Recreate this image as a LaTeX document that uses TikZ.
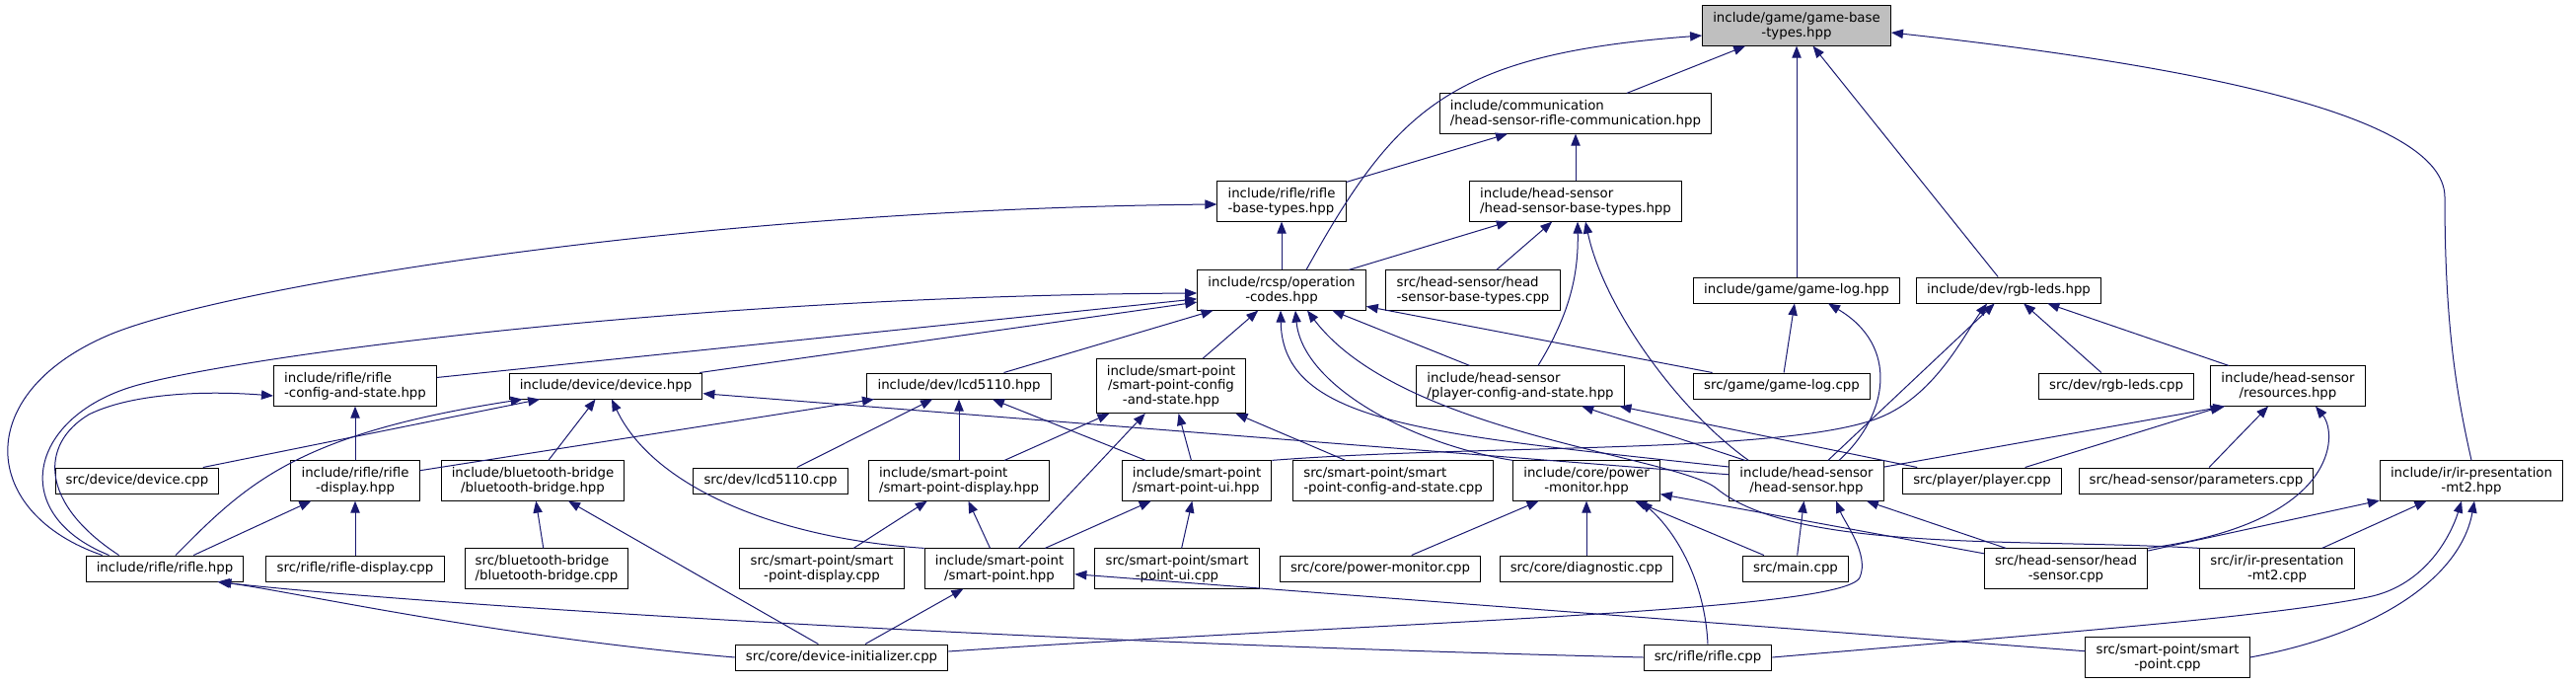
\documentclass[tikz,border=0pt]{standalone}
\usepackage{fontspec}
\setmainfont{DejaVu Sans}
\usetikzlibrary{arrows.meta,calc}
\definecolor{edgeblue}{HTML}{191970}
\definecolor{rootgray}{HTML}{BFBFBF}

\begin{document}
\begin{tikzpicture}[x=0.75pt,y=-0.75pt,
  file/.style={draw=black,line width=0.75pt,fill=white,inner xsep=8pt,inner ysep=4.75pt,
    minimum height=19.5pt,font=\fontsize{10}{11}\selectfont,align=left},
  filec/.style={file,align=center},
  inc/.style={draw=edgeblue,line width=0.75pt,-{Triangle[length=9pt,width=7pt,fill=edgeblue]}}]
  \useasboundingbox (0,0) rectangle (2611,692);
  % header rows
  \node[filec,fill=rootgray] (R) at (1821,26) {include/game/game-base\\-types.hpp};
  \node[file] (comm) at (1597,115) {include/communication\\/head-sensor-rifle-communication.hpp};
  \node[file] (rbt) at (1299,204) {include/rifle/rifle\\-base-types.hpp};
  \node[file] (hsbt) at (1597,204) {include/head-sensor\\/head-sensor-base-types.hpp};
  \node[filec] (rcsp) at (1299,294) {include/rcsp/operation\\-codes.hpp};
  \node[file] (hsbtcpp) at (1493,294) {src/head-sensor/head\\-sensor-base-types.cpp};
  \node[file] (glh) at (1821,294) {include/game/game-log.hpp};
  \node[file] (rgbh) at (2036,294) {include/dev/rgb-leds.hpp};
  \node[file] (rcs) at (360,391) {include/rifle/rifle\\-config-and-state.hpp};
  \node[file] (dev) at (614,391) {include/device/device.hpp};
  \node[file] (lcdh) at (972,391) {include/dev/lcd5110.hpp};
  \node[filec] (spcs) at (1187,391) {include/smart-point\\/smart-point-config\\-and-state.hpp};
  \node[file] (pcs) at (1541,391) {include/head-sensor\\/player-config-and-state.hpp};
  \node[file] (glcpp) at (1806,391) {src/game/game-log.cpp};
  \node[file] (rgbcpp) at (2145,391) {src/dev/rgb-leds.cpp};
  \node[filec] (res) at (2319,391) {include/head-sensor\\/resources.hpp};
  \node[file] (devcpp) at (139,487) {src/device/device.cpp};
  \node[filec] (rdh) at (360,487) {include/rifle/rifle\\-display.hpp};
  \node[filec] (bbh) at (540,487) {include/bluetooth-bridge\\/bluetooth-bridge.hpp};
  \node[file] (lcdcpp) at (781,487) {src/dev/lcd5110.cpp};
  \node[file] (spdh) at (972,487) {include/smart-point\\/smart-point-display.hpp};
  \node[file] (spuih) at (1213,487) {include/smart-point\\/smart-point-ui.hpp};
  \node[file] (spcscpp) at (1412,487) {src/smart-point/smart\\-point-config-and-state.cpp};
  \node[filec] (pmh) at (1608,487) {include/core/power\\-monitor.hpp};
  \node[filec] (hsh) at (1831,487) {include/head-sensor\\/head-sensor.hpp};
  \node[file] (plcpp) at (2009,487) {src/player/player.cpp};
  \node[file] (parcpp) at (2226,487) {src/head-sensor/parameters.cpp};
  \node[filec] (irh) at (2505,487) {include/ir/ir-presentation\\-mt2.hpp};
  % bottom rows
  \node[file] (rifh) at (167,576) {include/rifle/rifle.hpp};
  \node[file] (rdcpp) at (360,576) {src/rifle/rifle-display.cpp};
  \node[file] (bbcpp) at (554,576) {src/bluetooth-bridge\\/bluetooth-bridge.cpp};
  \node[filec] (spdcpp) at (833,576) {src/smart-point/smart\\-point-display.cpp};
  \node[filec] (sph) at (1013,576) {include/smart-point\\/smart-point.hpp};
  \node[filec] (spuicpp) at (1193,576) {src/smart-point/smart\\-point-ui.cpp};
  \node[file] (pmcpp) at (1399,576) {src/core/power-monitor.cpp};
  \node[file] (diagcpp) at (1608,576) {src/core/diagnostic.cpp};
  \node[file] (maincpp) at (1820,576) {src/main.cpp};
  \node[filec] (hscpp) at (2094,576) {src/head-sensor/head\\-sensor.cpp};
  \node[filec] (irpcpp) at (2308,576) {src/ir/ir-presentation\\-mt2.cpp};
  \node[file] (dicpp) at (853,666) {src/core/device-initializer.cpp};
  \node[file] (rifcpp) at (1731,666) {src/rifle/rifle.cpp};
  \node[filec] (spcpp) at (2197,666) {src/smart-point/smart\\-point.cpp};
  % straight includes
  \foreach \a/\b in {comm/R,glh/R,rgbh/R,rbt/comm,hsbt/comm,rcsp/rbt,rcsp/hsbt,hsbtcpp/hsbt,
      rcs/rcsp,dev/rcsp,lcdh/rcsp,spcs/rcsp,pcs/rcsp,glcpp/rcsp,rdh/rcs,devcpp/dev,bbh/dev,hsh/dev,
      rdh/lcdh,lcdcpp/lcdh,spdh/lcdh,spuih/lcdh,rdcpp/rdh,rifh/rdh,bbcpp/bbh,dicpp/bbh,
      spdh/spcs,sph/spcs,spuih/spcs,spcscpp/spcs,spdcpp/spdh,sph/spdh,sph/spuih,spuicpp/spuih,
      dicpp/sph,spcpp/sph,pmcpp/pmh,diagcpp/pmh,maincpp/pmh,hscpp/pmh,maincpp/hsh,hscpp/hsh,
      glcpp/glh,hsh/rgbh,rgbcpp/rgbh,res/rgbh,plcpp/res,parcpp/res,hsh/pcs,plcpp/pcs,
      hscpp/irh,irpcpp/irh}
    \draw[inc] (\a) -- (\b);
  \draw[inc] (hsh) -- ($(res.south west)+(15,0)$);
  % curved includes
  \draw[inc] ($(rcsp.north)+(25,0)$) .. controls (1415,110) and (1470,55) .. ($(R.west)+(0,10)$);
  \draw[inc] (irh.north) .. controls (2490,400) and (2478,330) .. (2478,200)
    .. controls (2478,130) and (2300,75) .. ($(R.east)+(0,7)$);
  \draw[inc] ($(rifh.north west)+(17,0)$) .. controls (-20,520) and (-30,400) .. (109,340)
    .. controls (220,292) and (700,212) .. ($(rbt.west)+(0,3)$);
  \draw[inc] ($(rifh.north west)+(24,0)$) .. controls (5,520) and (30,420) .. (140,390)
    .. controls (250,360) and (700,300) .. ($(rcsp.west)+(0,3)$);
  \draw[inc] ($(rifh.north west)+(34,0)$) .. controls (40,510) and (40,450) .. (90,420)
    .. controls (130,400) and (200,395) .. ($(rcs.west)+(0,10)$);
  \draw[inc] ($(rifh.north)+(11,0)$) .. controls (250,490) and (300,440) .. ($(dev.south west)+(14,0)$);
  \draw[inc] (sph.north west) .. controls (780,545) and (660,490) .. ($(dev.south)+(6,0)$);
  \draw[inc] ($(pcs.north)+(18,0)$) .. controls (1590,320) and (1600,280) .. ($(hsbt.south)+(2,0)$);
  \draw[inc] ($(hsh.north west)+(20,0)$) .. controls (1700,415) and (1625,310) .. ($(hsbt.south)+(10,0)$);
  \draw[inc] (pmh.north west) .. controls (1430,450) and (1320,390) .. ($(rcsp.south)+(14,0)$);
  \draw[inc] ($(hsh.west)+(0,-14)$) .. controls (1450,440) and (1300,430) .. ($(rcsp.south)+(-1,0)$);
  \draw[inc] (irpcpp.north west) .. controls (2050,545) and (1820,560) .. (1740,495)
    .. controls (1700,462) and (1420,440) .. ($(rcsp.south)+(26,0)$);
  \draw[inc] (rifcpp.north) .. controls (1728,590) and (1700,540) .. ($(pmh.south east)+(-20,0)$);
  \draw[inc] ($(dicpp.east)+(0,-6)$) .. controls (1400,630) and (1870,620) .. (1885,585)
    .. controls (1895,562) and (1870,530) .. ($(hsh.south)+(30,0)$);
  \draw[inc] ($(hsh.north)+(33,0)$) .. controls (1915,420) and (1925,350) .. ($(glh.south)+(32,0)$);
  \draw[inc] (spuih.north east) .. controls (1500,450) and (1800,460) .. (1900,425)
    .. controls (1960,404) and (1990,340) .. ($(rgbh.south)+(-22,0)$);
  \draw[inc] (hscpp.north east) .. controls (2370,530) and (2370,440) .. ($(res.south)+(28,0)$);
  \draw[inc] (rifcpp.east) .. controls (2100,640) and (2300,625) .. (2400,605)
    .. controls (2460,593) and (2485,540) .. ($(irh.south)+(-10,0)$);
  \draw[inc] (spcpp.east) .. controls (2420,640) and (2495,580) .. ($(irh.south)+(3,0)$);
  \draw[inc] (rifcpp.west) .. controls (1000,650) and (400,610) .. ($(rifh.south east)+(-27,0)$);
  \draw[inc] (dicpp.west) .. controls (500,645) and (300,600) .. ($(rifh.south east)+(-25,0)$);
\end{tikzpicture}
\end{document}
